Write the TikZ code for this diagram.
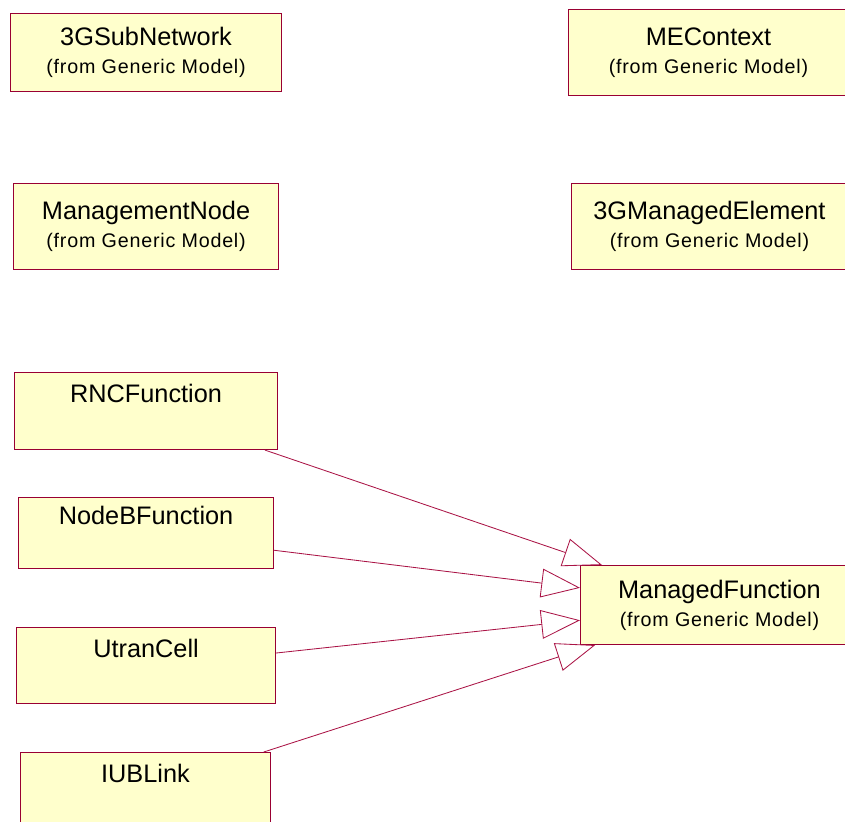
\documentclass[tikz,border=0pt]{standalone}
\usepackage{fontspec}
\setmainfont{Liberation Sans}
\usetikzlibrary{arrows.meta}
\definecolor{umlred}{RGB}{153,0,51}
\definecolor{umlline}{RGB}{170,20,70}
\definecolor{umlfill}{RGB}{255,255,204}
\newcommand{\fromgm}{{\fontsize{14}{16}\selectfont\addfontfeatures{LetterSpace=4}(from Generic Model)}}
\newcommand{\nofrom}{{\fontsize{14}{16}\selectfont\strut}}

\begin{document}
\begin{tikzpicture}[x=0.025cm, y=-0.025cm,
    umlclass/.style={draw=umlred, fill=umlfill, line width=0.6pt, anchor=north west,
                     inner sep=0pt, align=center, font=\fontsize{18}{22}\selectfont},
    gen/.style={draw=umlline, line width=0.6pt,
                -{Triangle[open, length=0.97cm, width=0.72cm]}}]
  \clip (0,0) rectangle (845,821);

  % Classes from the generic model
  \node[umlclass, minimum width=6.78cm, minimum height=1.95cm]
    (subnet) at (10,13) {3GSubNetwork\\[-2pt]\fromgm};
  \node[umlclass, minimum width=7cm, minimum height=2.15cm]
    (mecontext) at (568,9) {MEContext\\[-2pt]\fromgm};
  \node[umlclass, minimum width=6.63cm, minimum height=2.15cm]
    (mgmtnode) at (13,183) {ManagementNode\\[-2pt]\fromgm};
  \node[umlclass, minimum width=6.9cm, minimum height=2.15cm]
    (melement) at (571,183) {3GManagedElement\\[-2pt]\fromgm};
  \node[umlclass, minimum width=6.95cm, minimum height=1.98cm]
    (mfunction) at (580,565) {ManagedFunction\\[-2pt]\fromgm};

  % UTRAN classes
  \node[umlclass, minimum width=6.58cm, minimum height=1.93cm]
    (rnc) at (14,372) {RNCFunction\\[-2pt]\nofrom};
  \node[umlclass, minimum width=6.38cm, minimum height=1.78cm]
    (nodeb) at (18,497) {NodeBFunction\\[-2pt]\nofrom};
  \node[umlclass, minimum width=6.48cm, minimum height=1.9cm]
    (utran) at (16,627) {UtranCell\\[-2pt]\nofrom};
  \node[umlclass, minimum width=6.25cm, minimum height=1.93cm]
    (iub) at (20,752) {IUBLink\\[-2pt]\nofrom};

  % Generalisations
  \draw[gen] ([xshift=-0.33cm]rnc.south east) -- ([xshift=0.55cm]mfunction.north west);
  \draw[gen] ([yshift=0.47cm]nodeb.south east) -- ([yshift=-0.57cm]mfunction.north west);
  \draw[gen] ([yshift=-0.65cm]utran.north east) -- ([yshift=0.62cm]mfunction.south west);
  \draw[gen] ([xshift=-0.18cm]iub.north east) -- ([xshift=0.38cm]mfunction.south west);
\end{tikzpicture}
\end{document}
